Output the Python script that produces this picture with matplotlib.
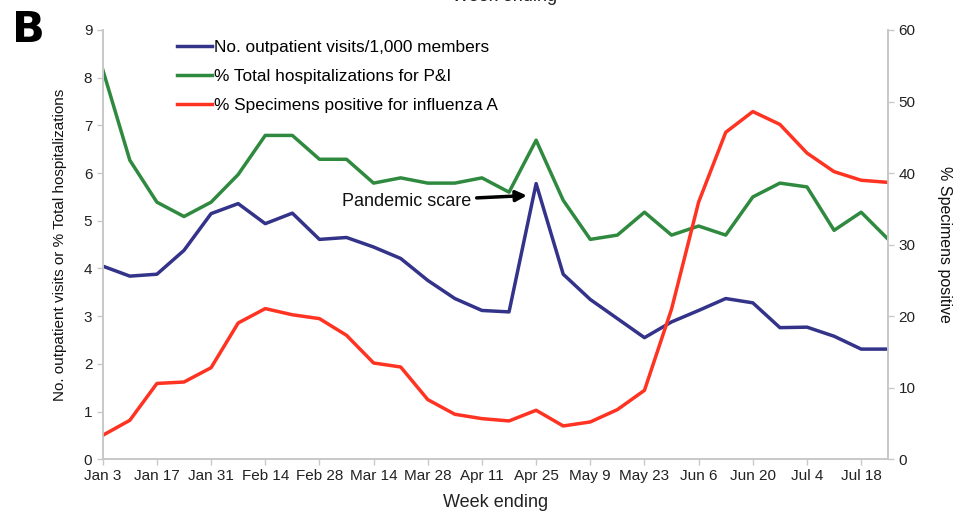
import numpy as np
import matplotlib.pyplot as plt

plt.rcParams['font.family'] = ['Liberation Sans', 'DejaVu Sans']

# weeks ending Jan 3 .. Jul 25
weeks = ['Jan 3', 'Jan 10', 'Jan 17', 'Jan 24', 'Jan 31', 'Feb 7', 'Feb 14', 'Feb 21',
         'Feb 28', 'Mar 7', 'Mar 14', 'Mar 21', 'Mar 28', 'Apr 4', 'Apr 11', 'Apr 18',
         'Apr 25', 'May 2', 'May 9', 'May 16', 'May 23', 'May 30', 'Jun 6', 'Jun 13',
         'Jun 20', 'Jun 27', 'Jul 4', 'Jul 11', 'Jul 18', 'Jul 25']

# outpatient visits per 1,000 members
visits = [4.05, 3.84, 3.88, 4.38, 5.15, 5.36, 4.94, 5.16, 4.61, 4.65, 4.45, 4.21, 3.75, 3.37,
          3.12, 3.09, 5.78, 3.88, 3.35, 2.95, 2.55, 2.88, 3.12, 3.37, 3.28, 2.76, 2.77, 2.58,
          2.31, 2.31]
# % total hospitalizations for P&I
hosp = [8.17, 6.27, 5.39, 5.09, 5.39, 5.97, 6.79, 6.79, 6.29, 6.29, 5.79, 5.9, 5.79, 5.79,
        5.9, 5.6, 6.69, 5.43, 4.61, 4.7, 5.18, 4.7, 4.89, 4.7, 5.5, 5.79, 5.71, 4.8, 5.18, 4.61]
# % specimens positive for influenza A (right axis)
flu_a = [3.35, 5.45, 10.6, 10.8, 12.8, 19.05, 21.06, 20.2, 19.66, 17.33, 13.46, 12.9, 8.34,
         6.29, 5.68, 5.36, 6.85, 4.66, 5.22, 6.94, 9.64, 21.0, 35.96, 45.7, 48.6, 46.8, 42.8,
         40.2, 39.0, 38.7]

tick_labels = ['Jan 3', 'Jan 17', 'Jan 31', 'Feb 14', 'Feb 28', 'Mar 14', 'Mar 28', 'Apr 11',
               'Apr 25', 'May 9', 'May 23', 'Jun 6', 'Jun 20', 'Jul 4', 'Jul 18']

x = np.arange(len(weeks))
blue = '#33338a'
green = '#2f8a40'
red = '#ff3322'
grey = '#c8c8c8'

fig = plt.figure(figsize=(9.61, 5.11), dpi=100)
ax = fig.add_axes([0.1069, 0.1012, 0.8174, 0.8401])
ax2 = ax.twinx()

l1, = ax.plot(x, visits, color=blue, lw=2.5, label='No. outpatient visits/1,000 members')
l2, = ax.plot(x, hosp, color=green, lw=2.5, label='% Total hospitalizations for P&I')
l3, = ax2.plot(x, flu_a, color=red, lw=2.5, label='% Specimens positive for influenza A')

ax.set_xlim(0, len(weeks) - 1)
ax.set_ylim(0, 9)
ax2.set_ylim(0, 60)
ax.set_yticks(range(0, 10))
ax2.set_yticks(range(0, 61, 10))
ax.set_xticks(x[::2])
ax.set_xticklabels(tick_labels)

for a in (ax, ax2):
    for s in a.spines.values():
        s.set_color(grey)
        s.set_linewidth(1.2)
    a.spines['top'].set_visible(False)
    a.tick_params(colors=grey, labelcolor='#222222', labelsize=11, length=4, width=1)
ax.tick_params(axis='x', pad=3)

ax.set_xlabel('Week ending', fontsize=13, color='#222222', labelpad=8)
ax.set_ylabel('No. outpatient visits or % Total hospitalizations', fontsize=11, color='#111111', labelpad=12)
ax2.set_ylabel('% Specimens positive', fontsize=11.5, color='#111111', rotation=270, labelpad=26)

ax2.legend(handles=[l1, l2, l3], loc='upper left', bbox_to_anchor=(0.095, 0.976), frameon=False,
           fontsize=12.4, handlelength=2.0, handletextpad=0.15, labelspacing=0.81,
           borderpad=0, borderaxespad=0)

ax.annotate('Pandemic scare', xy=(15.66, 5.53), xytext=(13.6, 5.41), ha='right', va='center',
            fontsize=13, color='#111111',
            arrowprops=dict(arrowstyle='-|>', color='black', lw=2.5, mutation_scale=16,
                            shrinkA=2, shrinkB=0))

fig.text(0.012, 0.982, 'B', fontsize=31, fontweight='heavy', va='top', ha='left',
         family='DejaVu Sans')
fig.text(0.525, 1.006, 'Week ending', fontsize=13, color='#222222', ha='center', va='center')

fig.savefig('out.png', dpi=100)
